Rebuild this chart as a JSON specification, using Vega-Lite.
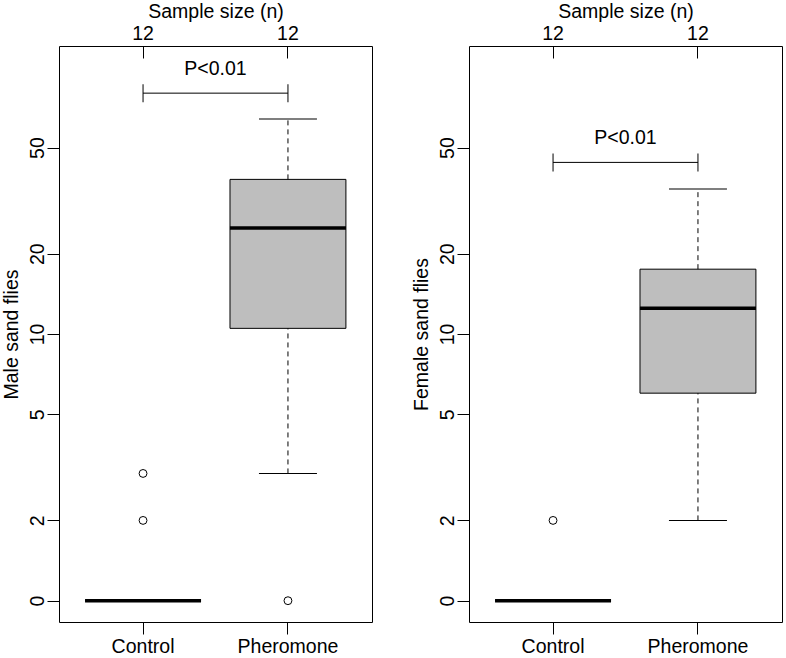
{
  "$schema": "https://vega.github.io/schema/vega-lite/v6.json",
  "padding": {"left": 0, "top": 0, "right": 0, "bottom": 0},
  "spacing": 37,
  "datasets": {
    "male_box": [
      {"group": "Control", "lower": 1, "q1": 1, "median": 1, "q3": 1, "upper": 1},
      {"group": "Pheromone", "lower": 3, "q1": 10.5, "median": 25, "q3": 38, "upper": 64}
    ],
    "male_out": [
      {"group": "Control", "flies": 2},
      {"group": "Control", "flies": 3},
      {"group": "Pheromone", "flies": 1}
    ],
    "male_test": [
      {"from": "Control", "to": "Pheromone", "bracket": 80, "label": "P<0.01"}
    ],
    "female_box": [
      {"group": "Control", "lower": 1, "q1": 1, "median": 1, "q3": 1, "upper": 1},
      {"group": "Pheromone", "lower": 2, "q1": 6, "median": 12.5, "q3": 17.5, "upper": 35}
    ],
    "female_out": [
      {"group": "Control", "flies": 2}
    ],
    "female_test": [
      {"from": "Control", "to": "Pheromone", "bracket": 44, "label": "P<0.01"}
    ]
  },
  "hconcat": [
    {
      "width": 313,
      "height": 576,
      "resolve": {"axis": {"x": "independent"}},
      "layer": [
        {
          "data": {"name": "male_box"},
          "mark": {"type": "bar", "width": {"band": 0.8}, "fill": "#BEBEBE", "stroke": "black", "strokeWidth": 1},
          "encoding": {
            "x": {"field": "group", "type": "nominal", "sort": ["Control", "Pheromone"], "scale": {"type": "band", "paddingInner": 0, "paddingOuter": 0.08}, "axis": {"orient": "bottom", "title": null, "labelAngle": 0}},
            "y": {"field": "q1", "type": "quantitative", "scale": {"type": "log", "domain": [0.832, 120.2], "nice": false}, "title": "Male sand flies", "axis": {"values": [1, 2, 5, 10, 20, 50], "labelExpr": "datum.value == 1 ? '0' : format(datum.value, 'd')"}},
            "y2": {"field": "q3"}
          }
        },
        {
          "data": {"name": "male_box"},
          "mark": {"type": "rule", "color": "black", "strokeDash": [5, 4]},
          "encoding": {
            "x": {"field": "group", "type": "nominal", "sort": ["Control", "Pheromone"], "scale": {"type": "band", "paddingInner": 0, "paddingOuter": 0.08}, "axis": null},
            "y": {"field": "q3", "type": "quantitative", "scale": {"type": "log", "domain": [0.832, 120.2], "nice": false}, "title": "Male sand flies", "axis": {"values": [1, 2, 5, 10, 20, 50], "labelExpr": "datum.value == 1 ? '0' : format(datum.value, 'd')"}},
            "y2": {"field": "upper"}
          }
        },
        {
          "data": {"name": "male_box"},
          "mark": {"type": "rule", "color": "black", "strokeDash": [5, 4]},
          "encoding": {
            "x": {"field": "group", "type": "nominal", "sort": ["Control", "Pheromone"], "scale": {"type": "band", "paddingInner": 0, "paddingOuter": 0.08}, "axis": null},
            "y": {"field": "lower", "type": "quantitative", "scale": {"type": "log", "domain": [0.832, 120.2], "nice": false}, "title": "Male sand flies", "axis": {"values": [1, 2, 5, 10, 20, 50], "labelExpr": "datum.value == 1 ? '0' : format(datum.value, 'd')"}},
            "y2": {"field": "q1"}
          }
        },
        {
          "data": {"name": "male_box"},
          "mark": {"type": "tick", "color": "black", "size": 58, "thickness": 1, "opacity": 1},
          "encoding": {
            "x": {"field": "group", "type": "nominal", "sort": ["Control", "Pheromone"], "scale": {"type": "band", "paddingInner": 0, "paddingOuter": 0.08}, "axis": null},
            "y": {"field": "upper", "type": "quantitative", "scale": {"type": "log", "domain": [0.832, 120.2], "nice": false}, "title": "Male sand flies", "axis": {"values": [1, 2, 5, 10, 20, 50], "labelExpr": "datum.value == 1 ? '0' : format(datum.value, 'd')"}}
          }
        },
        {
          "data": {"name": "male_box"},
          "mark": {"type": "tick", "color": "black", "size": 58, "thickness": 1, "opacity": 1},
          "encoding": {
            "x": {"field": "group", "type": "nominal", "sort": ["Control", "Pheromone"], "scale": {"type": "band", "paddingInner": 0, "paddingOuter": 0.08}, "axis": null},
            "y": {"field": "lower", "type": "quantitative", "scale": {"type": "log", "domain": [0.832, 120.2], "nice": false}, "title": "Male sand flies", "axis": {"values": [1, 2, 5, 10, 20, 50], "labelExpr": "datum.value == 1 ? '0' : format(datum.value, 'd')"}}
          }
        },
        {
          "data": {"name": "male_box"},
          "mark": {"type": "tick", "color": "black", "size": 116, "thickness": 3.5, "opacity": 1},
          "encoding": {
            "x": {"field": "group", "type": "nominal", "sort": ["Control", "Pheromone"], "scale": {"type": "band", "paddingInner": 0, "paddingOuter": 0.08}, "axis": null},
            "y": {"field": "median", "type": "quantitative", "scale": {"type": "log", "domain": [0.832, 120.2], "nice": false}, "title": "Male sand flies", "axis": {"values": [1, 2, 5, 10, 20, 50], "labelExpr": "datum.value == 1 ? '0' : format(datum.value, 'd')"}}
          }
        },
        {
          "data": {"name": "male_out"},
          "mark": {"type": "point", "shape": "circle", "filled": false, "color": "black", "size": 62, "strokeWidth": 1, "opacity": 1},
          "encoding": {
            "x": {"field": "group", "type": "nominal", "sort": ["Control", "Pheromone"], "scale": {"type": "band", "paddingInner": 0, "paddingOuter": 0.08}, "axis": {"orient": "top", "title": "Sample size (n)", "labelExpr": "'12'", "labelAngle": 0, "tickSize": -12, "labelPadding": 15, "titlePadding": 2}},
            "y": {"field": "flies", "type": "quantitative", "scale": {"type": "log", "domain": [0.832, 120.2], "nice": false}, "title": "Male sand flies", "axis": {"values": [1, 2, 5, 10, 20, 50], "labelExpr": "datum.value == 1 ? '0' : format(datum.value, 'd')"}}
          }
        },
        {
          "data": {"name": "male_test"},
          "mark": {"type": "rule", "color": "black", "strokeWidth": 1},
          "encoding": {
            "x": {"field": "from", "type": "nominal", "sort": ["Control", "Pheromone"], "scale": {"type": "band", "paddingInner": 0, "paddingOuter": 0.08}, "axis": null},
            "x2": {"field": "to"},
            "y": {"field": "bracket", "type": "quantitative", "scale": {"type": "log", "domain": [0.832, 120.2], "nice": false}, "title": "Male sand flies", "axis": {"values": [1, 2, 5, 10, 20, 50], "labelExpr": "datum.value == 1 ? '0' : format(datum.value, 'd')"}}
          }
        },
        {
          "data": {"name": "male_test"},
          "mark": {"type": "tick", "orient": "vertical", "color": "black", "size": 18, "thickness": 1, "opacity": 1},
          "encoding": {
            "x": {"field": "from", "type": "nominal", "sort": ["Control", "Pheromone"], "scale": {"type": "band", "paddingInner": 0, "paddingOuter": 0.08}, "axis": null},
            "y": {"field": "bracket", "type": "quantitative", "scale": {"type": "log", "domain": [0.832, 120.2], "nice": false}, "title": "Male sand flies", "axis": {"values": [1, 2, 5, 10, 20, 50], "labelExpr": "datum.value == 1 ? '0' : format(datum.value, 'd')"}}
          }
        },
        {
          "data": {"name": "male_test"},
          "mark": {"type": "tick", "orient": "vertical", "color": "black", "size": 18, "thickness": 1, "opacity": 1},
          "encoding": {
            "x": {"field": "to", "type": "nominal", "sort": ["Control", "Pheromone"], "scale": {"type": "band", "paddingInner": 0, "paddingOuter": 0.08}, "axis": null},
            "y": {"field": "bracket", "type": "quantitative", "scale": {"type": "log", "domain": [0.832, 120.2], "nice": false}, "title": "Male sand flies", "axis": {"values": [1, 2, 5, 10, 20, 50], "labelExpr": "datum.value == 1 ? '0' : format(datum.value, 'd')"}}
          }
        },
        {
          "data": {"name": "male_test"},
          "mark": {"type": "text", "color": "black", "fontSize": 19.5, "align": "center", "baseline": "alphabetic", "dy": -18},
          "encoding": {
            "x": {"field": "from", "type": "nominal", "bandPosition": 1, "sort": ["Control", "Pheromone"], "scale": {"type": "band", "paddingInner": 0, "paddingOuter": 0.08}, "axis": null},
            "y": {"field": "bracket", "type": "quantitative", "scale": {"type": "log", "domain": [0.832, 120.2], "nice": false}, "title": "Male sand flies", "axis": {"values": [1, 2, 5, 10, 20, 50], "labelExpr": "datum.value == 1 ? '0' : format(datum.value, 'd')"}},
            "text": {"field": "label"}
          }
        }
      ]
    },
    {
      "width": 313,
      "height": 576,
      "resolve": {"axis": {"x": "independent"}},
      "layer": [
        {
          "data": {"name": "female_box"},
          "mark": {"type": "bar", "width": {"band": 0.8}, "fill": "#BEBEBE", "stroke": "black", "strokeWidth": 1},
          "encoding": {
            "x": {"field": "group", "type": "nominal", "sort": ["Control", "Pheromone"], "scale": {"type": "band", "paddingInner": 0, "paddingOuter": 0.08}, "axis": {"orient": "bottom", "title": null, "labelAngle": 0}},
            "y": {"field": "q1", "type": "quantitative", "scale": {"type": "log", "domain": [0.832, 120.2], "nice": false}, "title": "Female sand flies", "axis": {"values": [1, 2, 5, 10, 20, 50], "labelExpr": "datum.value == 1 ? '0' : format(datum.value, 'd')"}},
            "y2": {"field": "q3"}
          }
        },
        {
          "data": {"name": "female_box"},
          "mark": {"type": "rule", "color": "black", "strokeDash": [5, 4]},
          "encoding": {
            "x": {"field": "group", "type": "nominal", "sort": ["Control", "Pheromone"], "scale": {"type": "band", "paddingInner": 0, "paddingOuter": 0.08}, "axis": null},
            "y": {"field": "q3", "type": "quantitative", "scale": {"type": "log", "domain": [0.832, 120.2], "nice": false}, "title": "Female sand flies", "axis": {"values": [1, 2, 5, 10, 20, 50], "labelExpr": "datum.value == 1 ? '0' : format(datum.value, 'd')"}},
            "y2": {"field": "upper"}
          }
        },
        {
          "data": {"name": "female_box"},
          "mark": {"type": "rule", "color": "black", "strokeDash": [5, 4]},
          "encoding": {
            "x": {"field": "group", "type": "nominal", "sort": ["Control", "Pheromone"], "scale": {"type": "band", "paddingInner": 0, "paddingOuter": 0.08}, "axis": null},
            "y": {"field": "lower", "type": "quantitative", "scale": {"type": "log", "domain": [0.832, 120.2], "nice": false}, "title": "Female sand flies", "axis": {"values": [1, 2, 5, 10, 20, 50], "labelExpr": "datum.value == 1 ? '0' : format(datum.value, 'd')"}},
            "y2": {"field": "q1"}
          }
        },
        {
          "data": {"name": "female_box"},
          "mark": {"type": "tick", "color": "black", "size": 58, "thickness": 1, "opacity": 1},
          "encoding": {
            "x": {"field": "group", "type": "nominal", "sort": ["Control", "Pheromone"], "scale": {"type": "band", "paddingInner": 0, "paddingOuter": 0.08}, "axis": null},
            "y": {"field": "upper", "type": "quantitative", "scale": {"type": "log", "domain": [0.832, 120.2], "nice": false}, "title": "Female sand flies", "axis": {"values": [1, 2, 5, 10, 20, 50], "labelExpr": "datum.value == 1 ? '0' : format(datum.value, 'd')"}}
          }
        },
        {
          "data": {"name": "female_box"},
          "mark": {"type": "tick", "color": "black", "size": 58, "thickness": 1, "opacity": 1},
          "encoding": {
            "x": {"field": "group", "type": "nominal", "sort": ["Control", "Pheromone"], "scale": {"type": "band", "paddingInner": 0, "paddingOuter": 0.08}, "axis": null},
            "y": {"field": "lower", "type": "quantitative", "scale": {"type": "log", "domain": [0.832, 120.2], "nice": false}, "title": "Female sand flies", "axis": {"values": [1, 2, 5, 10, 20, 50], "labelExpr": "datum.value == 1 ? '0' : format(datum.value, 'd')"}}
          }
        },
        {
          "data": {"name": "female_box"},
          "mark": {"type": "tick", "color": "black", "size": 116, "thickness": 3.5, "opacity": 1},
          "encoding": {
            "x": {"field": "group", "type": "nominal", "sort": ["Control", "Pheromone"], "scale": {"type": "band", "paddingInner": 0, "paddingOuter": 0.08}, "axis": null},
            "y": {"field": "median", "type": "quantitative", "scale": {"type": "log", "domain": [0.832, 120.2], "nice": false}, "title": "Female sand flies", "axis": {"values": [1, 2, 5, 10, 20, 50], "labelExpr": "datum.value == 1 ? '0' : format(datum.value, 'd')"}}
          }
        },
        {
          "data": {"name": "female_out"},
          "mark": {"type": "point", "shape": "circle", "filled": false, "color": "black", "size": 62, "strokeWidth": 1, "opacity": 1},
          "encoding": {
            "x": {"field": "group", "type": "nominal", "sort": ["Control", "Pheromone"], "scale": {"type": "band", "paddingInner": 0, "paddingOuter": 0.08}, "axis": {"orient": "top", "title": "Sample size (n)", "labelExpr": "'12'", "labelAngle": 0, "tickSize": -12, "labelPadding": 15, "titlePadding": 2}},
            "y": {"field": "flies", "type": "quantitative", "scale": {"type": "log", "domain": [0.832, 120.2], "nice": false}, "title": "Female sand flies", "axis": {"values": [1, 2, 5, 10, 20, 50], "labelExpr": "datum.value == 1 ? '0' : format(datum.value, 'd')"}}
          }
        },
        {
          "data": {"name": "female_test"},
          "mark": {"type": "rule", "color": "black", "strokeWidth": 1},
          "encoding": {
            "x": {"field": "from", "type": "nominal", "sort": ["Control", "Pheromone"], "scale": {"type": "band", "paddingInner": 0, "paddingOuter": 0.08}, "axis": null},
            "x2": {"field": "to"},
            "y": {"field": "bracket", "type": "quantitative", "scale": {"type": "log", "domain": [0.832, 120.2], "nice": false}, "title": "Female sand flies", "axis": {"values": [1, 2, 5, 10, 20, 50], "labelExpr": "datum.value == 1 ? '0' : format(datum.value, 'd')"}}
          }
        },
        {
          "data": {"name": "female_test"},
          "mark": {"type": "tick", "orient": "vertical", "color": "black", "size": 18, "thickness": 1, "opacity": 1},
          "encoding": {
            "x": {"field": "from", "type": "nominal", "sort": ["Control", "Pheromone"], "scale": {"type": "band", "paddingInner": 0, "paddingOuter": 0.08}, "axis": null},
            "y": {"field": "bracket", "type": "quantitative", "scale": {"type": "log", "domain": [0.832, 120.2], "nice": false}, "title": "Female sand flies", "axis": {"values": [1, 2, 5, 10, 20, 50], "labelExpr": "datum.value == 1 ? '0' : format(datum.value, 'd')"}}
          }
        },
        {
          "data": {"name": "female_test"},
          "mark": {"type": "tick", "orient": "vertical", "color": "black", "size": 18, "thickness": 1, "opacity": 1},
          "encoding": {
            "x": {"field": "to", "type": "nominal", "sort": ["Control", "Pheromone"], "scale": {"type": "band", "paddingInner": 0, "paddingOuter": 0.08}, "axis": null},
            "y": {"field": "bracket", "type": "quantitative", "scale": {"type": "log", "domain": [0.832, 120.2], "nice": false}, "title": "Female sand flies", "axis": {"values": [1, 2, 5, 10, 20, 50], "labelExpr": "datum.value == 1 ? '0' : format(datum.value, 'd')"}}
          }
        },
        {
          "data": {"name": "female_test"},
          "mark": {"type": "text", "color": "black", "fontSize": 19.5, "align": "center", "baseline": "alphabetic", "dy": -18},
          "encoding": {
            "x": {"field": "from", "type": "nominal", "bandPosition": 1, "sort": ["Control", "Pheromone"], "scale": {"type": "band", "paddingInner": 0, "paddingOuter": 0.08}, "axis": null},
            "y": {"field": "bracket", "type": "quantitative", "scale": {"type": "log", "domain": [0.832, 120.2], "nice": false}, "title": "Female sand flies", "axis": {"values": [1, 2, 5, 10, 20, 50], "labelExpr": "datum.value == 1 ? '0' : format(datum.value, 'd')"}},
            "text": {"field": "label"}
          }
        }
      ]
    }
  ],
  "config": {
    "font": "Liberation Sans",
    "background": "white",
    "view": {"stroke": "black", "strokeWidth": 1},
    "axis": {
      "domain": false,
      "grid": false,
      "ticks": true,
      "tickSize": 12,
      "tickColor": "black",
      "tickWidth": 1,
      "labelFont": "Liberation Sans",
      "labelFontSize": 19.5,
      "labelColor": "black",
      "labelPadding": 3,
      "titleFont": "Liberation Sans",
      "titleFontSize": 19.5,
      "titleFontWeight": "normal",
      "titleColor": "black"
    },
    "axisY": {
      "labelAngle": -90,
      "labelAlign": "center",
      "labelBaseline": "bottom",
      "labelPadding": 0,
      "titlePadding": 6
    },
    "axisX": {"labelAngle": 0}
  }
}
